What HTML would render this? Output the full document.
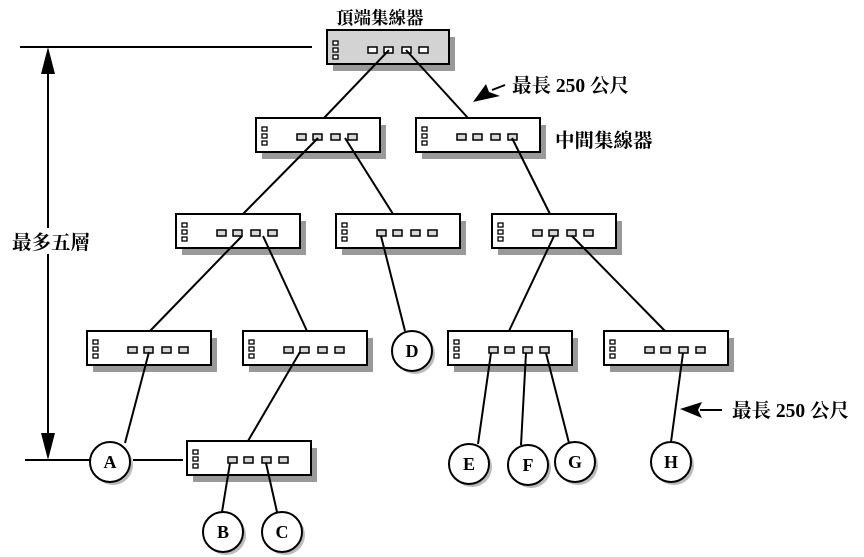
<!DOCTYPE html>
<html><head><meta charset="utf-8"><style>
body{margin:0;background:#fff}
svg{display:block}
.t{font-family:"Liberation Serif","Noto Serif CJK SC","Noto Sans CJK TC",serif;font-weight:bold;font-size:19.5px}
.c{font-family:"Liberation Serif",serif;font-weight:bold;font-size:18px}
</style></head><body>
<svg width="864" height="557" viewBox="0 0 864 557" xmlns="http://www.w3.org/2000/svg">
<defs>
<g id="hub">
<rect x="6" y="7" width="124" height="34" fill="#999"/>
<rect x="0" y="0" width="124" height="34" fill="#fff" stroke="#000" stroke-width="2"/>
<g fill="#fff" stroke="#000" stroke-width="1.3">
<rect x="6" y="9" width="5" height="4"/><rect x="6" y="16" width="5" height="4"/><rect x="6" y="23" width="5" height="4"/>
</g>
<g fill="#d8d8d8" stroke="#000" stroke-width="1.5">
<rect x="41" y="16" width="9" height="6"/><rect x="57" y="16" width="9" height="6"/><rect x="75" y="16" width="9" height="6"/><rect x="92" y="16" width="9" height="6"/>
</g>
</g>
<g id="node">
<circle cx="3" cy="3" r="20" fill="#bbb"/>
<circle cx="0" cy="0" r="20" fill="#fff" stroke="#000" stroke-width="2"/>
</g>
</defs>

<g transform="translate(327,30)">
<rect x="6" y="7" width="122" height="34" fill="#999"/>
<rect x="0" y="0" width="122" height="34" fill="#d3d3d3" stroke="#000" stroke-width="2"/>
<g fill="#fff" stroke="#000" stroke-width="1.3">
<rect x="6" y="11" width="5" height="4"/><rect x="6" y="18" width="5" height="4"/><rect x="6" y="25" width="5" height="4"/>
</g>
<g fill="#fff" stroke="#000" stroke-width="1.5">
<rect x="41" y="17" width="9" height="6"/><rect x="57" y="17" width="9" height="6"/><rect x="75" y="17" width="9" height="6"/><rect x="92" y="17" width="9" height="6"/>
</g>
</g>
<text x="336" y="24" class="t" style="font-size:17.5px">頂端集線器</text>

<use href="#hub" x="256" y="118"/>
<use href="#hub" x="416" y="118"/>
<use href="#hub" x="176" y="214"/>
<use href="#hub" x="336" y="214"/>
<use href="#hub" x="492" y="214"/>
<use href="#hub" x="87" y="331"/>
<use href="#hub" x="243" y="331"/>
<use href="#hub" x="448" y="331"/>
<use href="#hub" x="604" y="331"/>
<use href="#hub" x="187" y="441"/>

<g stroke="#000" stroke-width="2" fill="none">
<line x1="389" y1="50" x2="324" y2="118"/>
<line x1="406" y1="50" x2="468" y2="118"/>
<line x1="318" y1="138" x2="243" y2="214"/>
<line x1="345" y1="138" x2="393" y2="214"/>
<line x1="512" y1="138" x2="550" y2="214"/>
<line x1="242" y1="236" x2="150" y2="331"/>
<line x1="263" y1="236" x2="307" y2="331"/>
<line x1="381" y1="236" x2="405" y2="331"/>
<line x1="554" y1="236" x2="509" y2="331"/>
<line x1="572" y1="236" x2="665" y2="331"/>
<line x1="149" y1="352" x2="125" y2="443"/>
<line x1="300" y1="352" x2="248" y2="441"/>
<line x1="491" y1="353" x2="478" y2="444"/>
<line x1="526" y1="353" x2="521" y2="445"/>
<line x1="546" y1="353" x2="569" y2="443"/>
<line x1="683" y1="353" x2="671" y2="442"/>
<line x1="230" y1="463" x2="222" y2="512"/>
<line x1="266" y1="463" x2="277" y2="512"/>
<line x1="20" y1="47" x2="312" y2="47"/>
<line x1="48" y1="60" x2="48" y2="448"/>
<line x1="25" y1="460" x2="90" y2="460"/>
<line x1="133" y1="460" x2="183" y2="460"/>
<line x1="722" y1="410" x2="700" y2="410"/>
<line x1="505" y1="85" x2="492" y2="90"/>
</g>
<polygon points="48,47 41,74 55,74" fill="#000"/>
<polygon points="48,460 41,433 55,433" fill="#000"/>
<polygon points="680,409 702,402 698,410 702,418" fill="#000"/>
<polygon points="473,102 486,84 489,92 500,96" fill="#000"/>

<rect x="8" y="228" width="84" height="26" fill="#fff"/>
<text x="12" y="249" class="t">最多五層</text>
<text x="512" y="92" class="t">最長 250 公尺</text>
<text x="555" y="147" class="t">中間集線器</text>
<text x="732" y="417" class="t">最長 250 公尺</text>

<use href="#node" x="110" y="462"/>
<use href="#node" x="412" y="351"/>
<use href="#node" x="469" y="464"/>
<use href="#node" x="528" y="465"/>
<use href="#node" x="575" y="462"/>
<use href="#node" x="671" y="462"/>
<use href="#node" x="223" y="532"/>
<use href="#node" x="282" y="532"/>
<g class="c" text-anchor="middle">
<text x="110" y="468">A</text>
<text x="412" y="357">D</text>
<text x="469" y="470">E</text>
<text x="528" y="471">F</text>
<text x="575" y="468">G</text>
<text x="671" y="468">H</text>
<text x="223" y="538">B</text>
<text x="282" y="538">C</text>
</g>
</svg>
</body></html>
